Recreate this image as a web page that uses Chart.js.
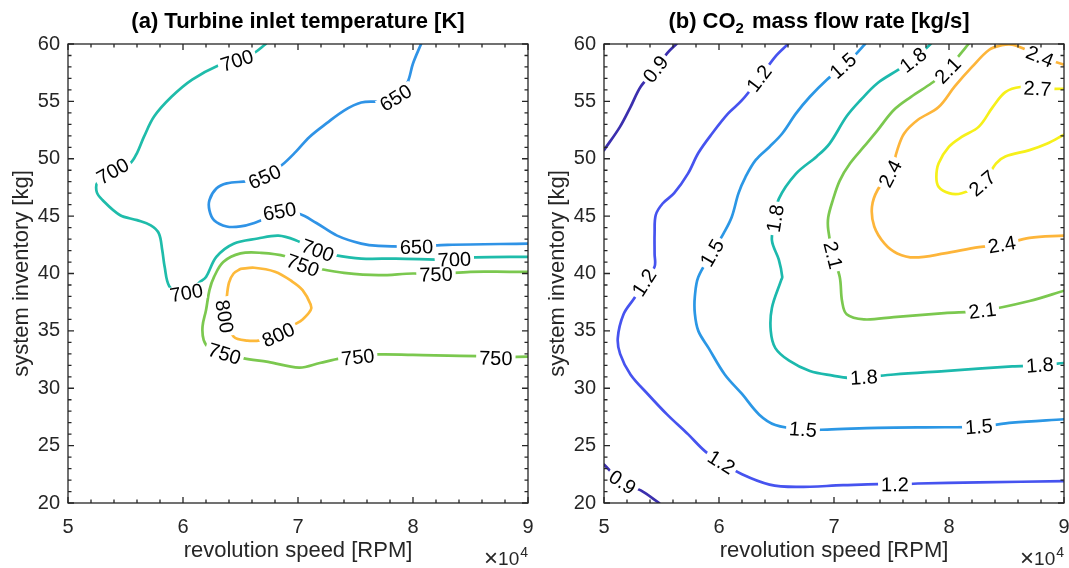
<!DOCTYPE html>
<html><head><meta charset="utf-8">
<script src="https://cdn.jsdelivr.net/npm/chart.js@4/dist/chart.umd.min.js"></script>
<style>
html,body{margin:0;padding:0;background:#fff}
body{width:1069px;height:568px;overflow:hidden;position:relative}
.p{position:absolute;top:0;height:568px}
#pa{left:0;width:536px}
#pb{left:536px;width:533px}
</style></head><body>
<div class="p" id="pa"><canvas id="ca"></canvas></div>
<div class="p" id="pb"><canvas id="cb"></canvas></div>
<script>
// ---------- data (x: revolution speed in 10^4 RPM, y: system inventory in kg) ----------
const xTicks = [5, 6, 7, 8, 9];
const yTicks = [20, 25, 30, 35, 40, 45, 50, 55, 60];

// (a) Turbine inlet temperature [K] contour lines
const tit650 = [[8.07,60],[8.00,58.3],[7.95,56.6],[7.85,55.3],[7.70,55.0],[7.55,54.9],[7.40,54.2],[7.25,53.1],[7.10,51.9],[6.98,50.6],[6.86,49.45],[6.71,48.4],[6.56,48.05],[6.38,47.85],[6.29,47.4],[6.23,46.4],[6.23,45.5],[6.27,44.65],[6.38,44.1],[6.50,44.1],[6.62,44.4],[6.84,45.25],[7.01,45.2],[7.16,44.4],[7.34,43.3],[7.55,42.6],[7.70,42.4],[8.03,42.35],[8.30,42.5],[9.0,42.6]];
const tit700 = [[6.72,60],[6.60,59.1],[6.47,58.6],[6.32,58.2],[6.08,56.9],[5.90,55.4],[5.75,53.7],[5.66,51.9],[5.60,50.5],[5.54,49.6],[5.39,48.9],[5.26,48.0],[5.25,47.1],[5.30,46.4],[5.45,45.1],[5.60,44.65],[5.72,44.2],[5.79,43.5],[5.82,42.0],[5.84,40.6],[5.88,38.9],[5.97,38.3],[6.08,38.5],[6.14,39.2],[6.20,39.7],[6.29,41.45],[6.44,42.6],[6.65,43.05],[6.83,43.3],[6.98,42.9],[7.17,42.0],[7.32,41.6],[7.55,41.3],[7.85,41.3],[8.36,41.2],[8.54,41.4],[9.0,41.45]];
const tit750 = [[9.0,40.15],[8.84,40.15],[8.5,40.15],[8.2,39.95],[8.0,40.0],[7.7,39.85],[7.4,40.05],[7.19,40.4],[7.04,40.75],[6.89,41.5],[6.68,41.8],[6.50,41.75],[6.35,41.0],[6.27,39.7],[6.23,38.55],[6.20,36.8],[6.17,35.4],[6.18,34.2],[6.23,33.5],[6.36,33.0],[6.53,32.6],[6.74,32.3],[7.01,31.8],[7.19,32.2],[7.37,32.6],[7.52,32.75],[7.70,32.95],[8.0,32.9],[8.57,32.8],[8.72,32.7],[9.0,32.75]];
const tit800 = [[6.50,40.4],[6.62,40.5],[6.80,40.15],[6.95,39.3],[7.04,38.55],[7.11,37.3],[7.11,36.8],[7.04,36.0],[6.96,35.5],[6.83,34.7],[6.68,34.2],[6.56,34.15],[6.44,34.5],[6.37,36.2],[6.38,37.85],[6.40,39.2],[6.44,40.0],[6.50,40.4]];
const titLevels = [650, 700, 750, 800];
const titLabels = [[6.47,58.55,700],[5.39,48.9,700],[6.03,38.3,700],[7.17,42.0,700],[8.36,41.2,700],
  [7.85,55.3,650],[6.71,48.4,650],[6.84,45.4,650],[8.03,42.3,650],
  [7.04,40.7,750],[8.2,39.9,750],[6.36,33.0,750],[7.52,32.7,750],[8.72,32.6,750],
  [6.83,34.65,800],[6.36,36.25,800]];

// (b) CO2 mass flow rate [kg/s] contour lines
const m09a = [[5.0,50.75],[5.14,52.8],[5.23,54.5],[5.32,56.3],[5.45,57.8],[5.55,59.2],[5.63,60]];
const m09b = [[5.0,23.35],[5.16,21.8],[5.32,21.1],[5.48,20.0]];
const m12 = [[6.60,60],[6.49,58.9],[6.35,57.0],[6.20,55.1],[6.08,53.95],[5.94,52.2],[5.82,50.5],[5.73,48.7],[5.61,47.0],[5.51,46.1],[5.45,45.1],[5.44,43.5],[5.44,41.7],[5.44,40.6],[5.35,39.2],[5.26,37.8],[5.17,36.45],[5.12,34.4],[5.14,33.0],[5.23,31.2],[5.38,29.5],[5.55,27.7],[5.73,26.0],[5.88,24.5],[6.02,23.55],[6.20,22.5],[6.44,21.6],[6.67,21.4],[7.08,21.55],[7.38,21.65],[7.53,21.6],[7.73,21.7],[8.26,21.8],[9.0,21.9]];
const m15 = [[7.27,60],[7.17,58.9],[7.08,58.1],[6.94,56.9],[6.79,55.4],[6.67,53.95],[6.55,52.2],[6.44,51.05],[6.32,49.9],[6.23,48.4],[6.17,47.0],[6.11,44.9],[6.04,43.5],[5.94,41.8],[5.82,39.7],[5.79,38.0],[5.79,36.5],[5.82,35.0],[5.91,33.5],[6.05,31.2],[6.20,29.5],[6.35,27.7],[6.49,26.8],[6.73,26.4],[6.94,26.4],[7.38,26.55],[7.96,26.6],[8.26,26.65],[8.55,27.0],[9.0,27.3]];
const m18 = [[7.84,60],[7.69,58.6],[7.55,57.7],[7.38,56.6],[7.23,55.1],[7.11,53.7],[6.96,51.3],[6.85,50.2],[6.67,48.7],[6.52,46.5],[6.49,44.8],[6.46,42.9],[6.52,41.2],[6.55,39.7],[6.54,39.4],[6.46,37.0],[6.45,35.0],[6.49,33.5],[6.61,32.4],[6.79,31.5],[6.99,31.1],[7.14,30.9],[7.26,30.95],[7.52,31.2],[7.96,31.5],[8.55,31.9],[8.79,32.0],[9.0,32.2]];
const m21 = [[8.17,60],[8.08,58.9],[7.99,57.7],[7.85,56.6],[7.67,55.4],[7.52,54.25],[7.38,52.5],[7.26,51.05],[7.14,49.6],[7.05,48.1],[6.99,46.4],[6.95,44.9],[6.95,43.8],[6.99,41.6],[7.05,39.7],[7.07,37.6],[7.11,36.45],[7.26,36.0],[7.52,36.2],[7.96,36.55],[8.29,36.75],[8.70,37.6],[9.0,38.5]];
const m24 = [[9.0,58.2],[8.79,58.9],[8.67,59.5],[8.55,59.95],[8.46,59.9],[8.35,59.5],[8.20,58.0],[8.05,56.3],[7.91,54.5],[7.73,53.4],[7.61,52.2],[7.55,50.75],[7.49,48.7],[7.38,47.3],[7.33,45.8],[7.35,44.1],[7.44,42.6],[7.55,41.75],[7.70,41.4],[7.96,41.75],[8.26,42.3],[8.46,42.5],[8.70,43.1],[9.0,43.3]];
const m27 = [[9.0,56.1],[8.77,56.1],[8.62,56.25],[8.49,55.8],[8.38,54.5],[8.26,52.8],[8.11,51.9],[8.0,51.05],[7.91,49.6],[7.89,48.4],[7.91,47.55],[8.0,47.0],[8.11,47.0],[8.29,47.85],[8.41,49.6],[8.49,50.2],[8.70,50.75],[8.85,51.3],[9.0,52.1]];
const mLevels = [0.9, 1.2, 1.5, 1.8, 2.1, 2.4, 2.7];
const mLabels = [[5.45,57.8,0.9],[5.16,21.8,0.9],
  [6.35,57.0,1.2],[5.35,39.2,1.2],[6.02,23.55,1.2],[7.53,21.6,1.2],
  [7.08,58.1,1.5],[5.94,41.8,1.5],[6.73,26.4,1.5],[8.26,26.65,1.5],
  [7.69,58.6,1.8],[6.49,44.8,1.8],[7.26,30.95,1.8],[8.79,32.0,1.8],
  [7.99,57.7,2.1],[6.99,41.6,2.1],[8.29,36.75,2.1],
  [8.79,58.9,2.4],[7.49,48.7,2.4],[8.46,42.5,2.4],
  [8.77,56.1,2.7],[8.29,47.85,2.7]];

// ---------- styling ----------
const FONT = '"Liberation Sans", Arial, Helvetica, sans-serif';
const INK = '#262626';
const titColors = {650:'#2f93e6', 700:'#1fbcaa', 750:'#7bc84f', 800:'#fdb93a'};
const mColors = {0.9:'#3b2fae', 1.2:'#4653ef', 1.5:'#2b97e5', 1.8:'#1cb9ad', 2.1:'#7bc84f', 2.4:'#fdb53a', 2.7:'#f6f01a'};

const titLines = [{level:650,pts:tit650},{level:700,pts:tit700},{level:750,pts:tit750},{level:800,pts:tit800}];
const mLines = [{level:0.9,pts:m09a},{level:0.9,pts:m09b},{level:1.2,pts:m12},{level:1.5,pts:m15},{level:1.8,pts:m18},{level:2.1,pts:m21},{level:2.4,pts:m24},{level:2.7,pts:m27}];

function pointAt(P, cum, s){
  if (s <= 0) { const d=[P[1][0]-P[0][0],P[1][1]-P[0][1]]; const L=Math.hypot(d[0],d[1])||1; return [P[0][0]+d[0]/L*s, P[0][1]+d[1]/L*s]; }
  for (let i=1;i<P.length;i++){
    if (cum[i] >= s){ const L=cum[i]-cum[i-1]||1; const t=(s-cum[i-1])/L; return [P[i-1][0]+(P[i][0]-P[i-1][0])*t, P[i-1][1]+(P[i][1]-P[i-1][1])*t]; }
  }
  const n=P.length-1; const d=[P[n][0]-P[n-1][0],P[n][1]-P[n-1][1]]; const L=Math.hypot(d[0],d[1])||1; const e=s-cum[n];
  return [P[n][0]+d[0]/L*e, P[n][1]+d[1]/L*e];
}

function makePlugin(cfg){
  return {
    id:'decor',
    afterDatasetsDraw(chart){
      const {ctx, scales:{x,y}} = chart;
      ctx.save();
      ctx.font = '20px ' + FONT;
      ctx.textAlign = 'center'; ctx.textBaseline = 'middle';
      for (const [lx,ly,lev] of cfg.labels){
        const px = x.getPixelForValue(lx), py = y.getPixelForValue(ly);
        let best = null;
        cfg.lines.filter(l=>l.level===lev).forEach(l=>{
          const P = l.pts.map(p=>[x.getPixelForValue(p[0]), y.getPixelForValue(p[1])]);
          const cum=[0];
          for (let i=1;i<P.length;i++) cum.push(cum[i-1]+Math.hypot(P[i][0]-P[i-1][0],P[i][1]-P[i-1][1]));
          for (let i=1;i<P.length;i++){
            const ax=P[i-1][0], ay=P[i-1][1], bx=P[i][0], by=P[i][1];
            const L2=(bx-ax)**2+(by-ay)**2||1;
            let t=((px-ax)*(bx-ax)+(py-ay)*(by-ay))/L2; t=Math.max(0,Math.min(1,t));
            const qx=ax+t*(bx-ax), qy=ay+t*(by-ay);
            const d=Math.hypot(px-qx,py-qy);
            if (!best || d<best.d) best={d, s:cum[i-1]+t*Math.sqrt(L2), P, cum};
          }
        });
        let ang = 0;
        if (best){
          const a=pointAt(best.P,best.cum,best.s-16), b=pointAt(best.P,best.cum,best.s+16);
          ang=Math.atan2(b[1]-a[1], b[0]-a[0]);
          if (ang > Math.PI/2) ang -= Math.PI;
          if (ang <= -Math.PI/2) ang += Math.PI;
        }
        const text = cfg.fmt(lev);
        const w = ctx.measureText(text).width;
        ctx.save(); ctx.translate(px,py); ctx.rotate(ang);
        ctx.fillStyle='#fff'; ctx.fillRect(-w/2-3,-8,w+6,16);
        ctx.fillStyle='#000'; ctx.fillText(text,0,1);
        ctx.restore();
      }
      ctx.restore();
    },
    afterDraw(chart){
      const {ctx, chartArea:{left,right,top,bottom}, scales:{x,y}} = chart;
      ctx.save();
      ctx.strokeStyle = INK; ctx.lineWidth = 1.3;
      ctx.strokeRect(left,top,right-left,bottom-top);
      ctx.beginPath();
      for (let k=0;k<=20;k++){
        const v=5+k*0.2; const px=x.getPixelForValue(v); const L=(k%5===0)?6:3.5;
        ctx.moveTo(px,bottom); ctx.lineTo(px,bottom-L);
        ctx.moveTo(px,top); ctx.lineTo(px,top+L);
      }
      for (let v=20; v<=60; v++){
        const py=y.getPixelForValue(v); const L=(v%5===0)?6:3.5;
        ctx.moveTo(left,py); ctx.lineTo(left+L,py);
        ctx.moveTo(right,py); ctx.lineTo(right-L,py);
      }
      ctx.stroke();
      // title
      ctx.fillStyle = '#000';
      ctx.textBaseline = 'alphabetic'; ctx.textAlign = 'left';
      const cx = (left+right)/2 + cfg.titleShift;
      const bold = 'bold 22px ' + FONT, sub = 'bold 15px ' + FONT;
      let total = 0;
      cfg.title.forEach(part=>{ ctx.font = part.sub?sub:bold; total += ctx.measureText(part.t).width + (part.gap||0); });
      let tx = cx - total/2;
      cfg.title.forEach(part=>{
        ctx.font = part.sub?sub:bold;
        ctx.fillText(part.t, tx, part.sub?33:28);
        tx += ctx.measureText(part.t).width + (part.gap||0);
      });
      // x10^4 exponent label
      ctx.fillStyle = INK;
      ctx.font = '14px ' + FONT;
      const w4 = ctx.measureText('4').width;
      ctx.fillText('4', right - w4, 557);
      ctx.font = '19px ' + FONT;
      const w10 = ctx.measureText('10').width;
      ctx.fillText('10', right - w4 - w10 - 1, 565);
      ctx.font = '24px ' + FONT;
      const wx = ctx.measureText('\u00d7').width;
      ctx.fillText('\u00d7', right - w4 - w10 - wx - 1, 566);
      ctx.restore();
    }
  };
}

function makeChart(id, lines, colors, cfg, rightPad){
  const datasets = lines.map(l=>({
    data: l.pts.map(p=>({x:p[0], y:p[1]})),
    borderColor: colors[l.level], backgroundColor: colors[l.level],
    borderWidth: 2.7, pointRadius: 0, pointHoverRadius: 0, showLine: true, fill: false,
    tension: 0.35, clip: 0, borderCapStyle: 'round', borderJoinStyle: 'round'
  }));
  return new Chart(document.getElementById(id), {
    type: 'scatter',
    data: { datasets },
    options: {
      responsive: true, maintainAspectRatio: false, animation: false,
      events: [],
      layout: { padding: { top: 44, right: rightPad, left: 0, bottom: 0 } },
      plugins: { legend: { display: false }, tooltip: { enabled: false }, title: { display: false } },
      scales: {
        x: {
          type: 'linear', min: 5, max: 9,
          afterBuildTicks: s => { s.ticks = xTicks.map(v=>({value:v})); },
          ticks: { font: { family: FONT, size: 20 }, color: INK, padding: 12, maxRotation: 0, autoSkip: false, callback: v => String(v) },
          grid: { display: false, drawTicks: false }, border: { display: false },
          title: { display: true, text: 'revolution speed [RPM]', font: { family: FONT, size: 22 }, color: INK, padding: { top: 0, bottom: 4 } },
          afterFit: s => { s.height = 65; s.paddingLeft = 0; s.paddingRight = 0; }
        },
        y: {
          type: 'linear', min: 20, max: 60,
          afterBuildTicks: s => { s.ticks = yTicks.map(v=>({value:v})); },
          ticks: { font: { family: FONT, size: 20 }, color: INK, padding: 8, autoSkip: false, callback: v => String(v) },
          grid: { display: false, drawTicks: false }, border: { display: false },
          title: { display: true, text: 'system inventory [kg]', font: { family: FONT, size: 22 }, color: INK, padding: { top: 9, bottom: 0 } },
          afterFit: s => { s.width = 68; s.paddingTop = 0; s.paddingBottom = 0; }
        }
      }
    },
    plugins: [makePlugin(cfg)]
  });
}

makeChart('ca', titLines, titColors, {
  labels: titLabels, lines: titLines, fmt: v => String(v), titleShift: 0,
  title: [{t:'(a) Turbine inlet temperature [K]'}]
}, 8);
makeChart('cb', mLines, mColors, {
  labels: mLabels, lines: mLines, fmt: v => v.toFixed(1), titleShift: -15,
  title: [{t:'(b) CO'},{t:'2', sub:true, gap:8},{t:'mass flow rate [kg/s]'}]
}, 5);
</script>
</body></html>
